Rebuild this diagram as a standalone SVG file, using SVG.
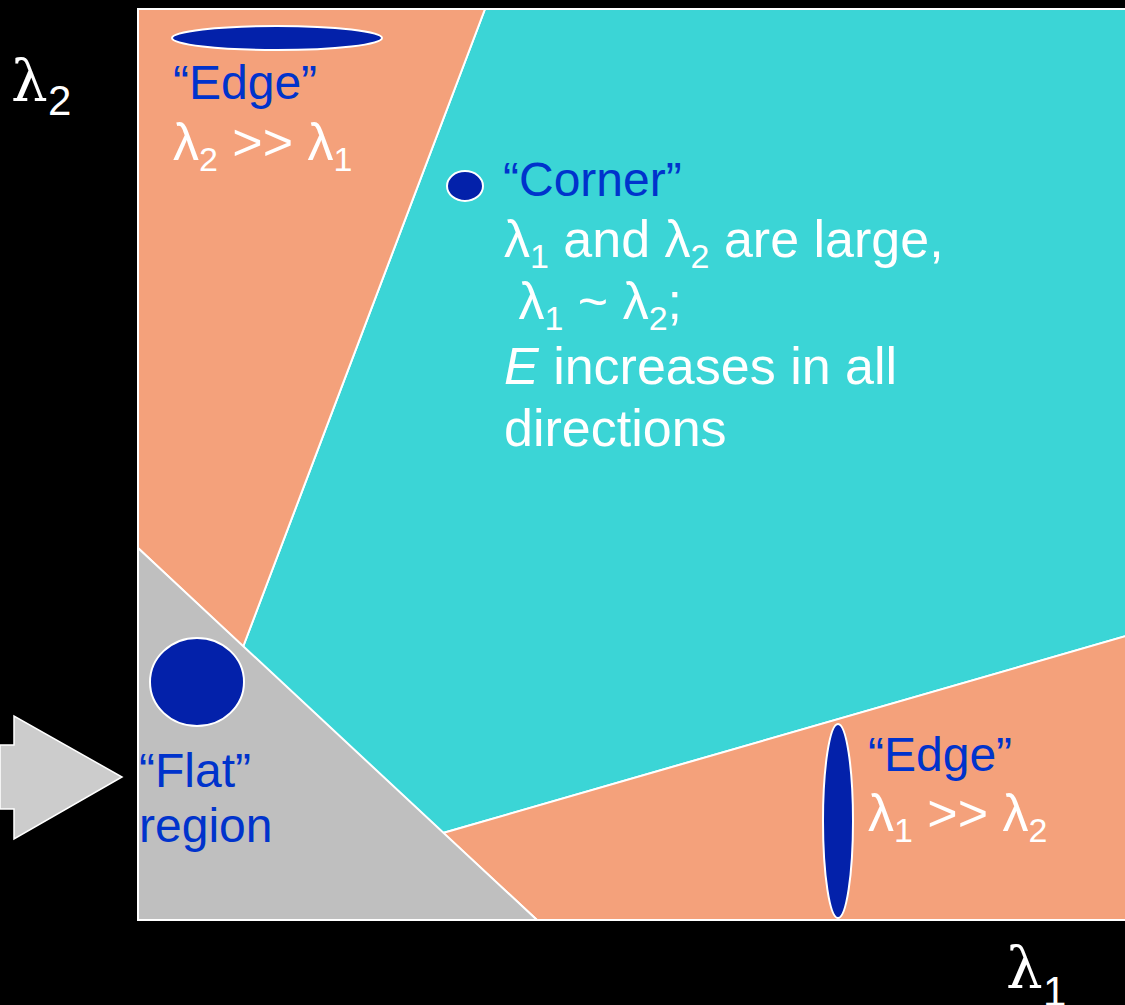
<svg xmlns="http://www.w3.org/2000/svg" width="1125" height="1005" viewBox="0 0 1125 1005">
<style>
.reg{stroke:#FFFFFF;stroke-width:2;stroke-linejoin:round}
.salmon{fill:#F4A17B}
.cyan{fill:#3BD5D6}
.gray{fill:#BFBFBF}
.blob{fill:#0321AA;stroke:#FFFFFF;stroke-width:2}
.t{font-family:"Liberation Sans",Arial,sans-serif}
.blue{fill:#0033CC;font-size:48px}
.white{fill:#FFFFFF;font-size:52px}
.sub{font-size:34px}
.ax{font-family:"DejaVu Serif","Liberation Serif",serif;font-size:58px;fill:#FFFFFF}
.axsub{font-family:"Liberation Sans",Arial,sans-serif;font-size:42px;fill:#FFFFFF}
</style>
<rect x="0" y="0" width="1125" height="1005" fill="#000000"/>
<g id="regions">
  <polygon id="corner-region" class="cyan reg" points="485,9 1140,9 1140,632 443,833 243,647"/>
  <polygon id="edge-region-top" class="salmon reg" points="138,9 485,9 243,647 138,548"/>
  <polygon id="edge-region-bottom" class="salmon reg" points="443,833 1140,632 1140,920 537,920"/>
  <polygon id="flat-region" class="gray reg" points="138,548 537,920 138,920"/>
  <rect x="138" y="9" width="1002" height="911" fill="none" stroke="#FFFFFF" stroke-width="2"/>
</g>
<g id="edge-top">
  <ellipse class="blob" cx="277" cy="38" rx="105" ry="12"/>
  <text class="t blue" x="173" y="99">“Edge”</text>
  <text class="t white" x="173" y="160">λ<tspan class="sub" dy="11">2</tspan><tspan dy="-11"> &gt;&gt; λ</tspan><tspan class="sub" dy="11">1</tspan></text>
</g>
<g id="corner">
  <ellipse class="blob" cx="465" cy="186" rx="18" ry="15"/>
  <text class="t blue" x="503" y="196">“Corner”</text>
  <text class="t white" x="504" y="257">λ<tspan class="sub" dy="11">1</tspan><tspan dy="-11"> and λ</tspan><tspan class="sub" dy="11">2</tspan><tspan dy="-11"> are large,</tspan></text>
  <text class="t white" x="504" y="319" xml:space="preserve"> λ<tspan class="sub" dy="11">1</tspan><tspan dy="-11"> ~ λ</tspan><tspan class="sub" dy="11">2</tspan><tspan dy="-11">;</tspan></text>
  <text class="t white" x="504" y="384"><tspan font-style="italic">E</tspan> increases in all</text>
  <text class="t white" x="504" y="446">directions</text>
</g>
<g id="flat">
  <ellipse class="blob" cx="197" cy="682" rx="47" ry="44"/>
  <text class="t blue" x="139" y="787">“Flat”</text>
  <text class="t blue" x="139" y="842">region</text>
</g>
<g id="edge-bottom">
  <ellipse class="blob" cx="838" cy="821" rx="15" ry="97"/>
  <text class="t blue" x="868" y="771">“Edge”</text>
  <text class="t white" x="868" y="831">λ<tspan class="sub" dy="11">1</tspan><tspan dy="-11"> &gt;&gt; λ</tspan><tspan class="sub" dy="11">2</tspan></text>
</g>
<g id="axes">
  <text x="11" y="101"><tspan class="ax">λ</tspan><tspan class="axsub" x="48" y="115">2</tspan></text>
  <text x="1006" y="988"><tspan class="ax">λ</tspan><tspan class="axsub" x="1043" y="1006">1</tspan></text>
</g>
<g id="connectors">
  <polygon id="arrow" points="0,745 14,745 14,716 122,777 14,839 14,809 0,809" fill="#CCCCCC" stroke="#FFFFFF" stroke-width="1.5"/>
</g>
</svg>
